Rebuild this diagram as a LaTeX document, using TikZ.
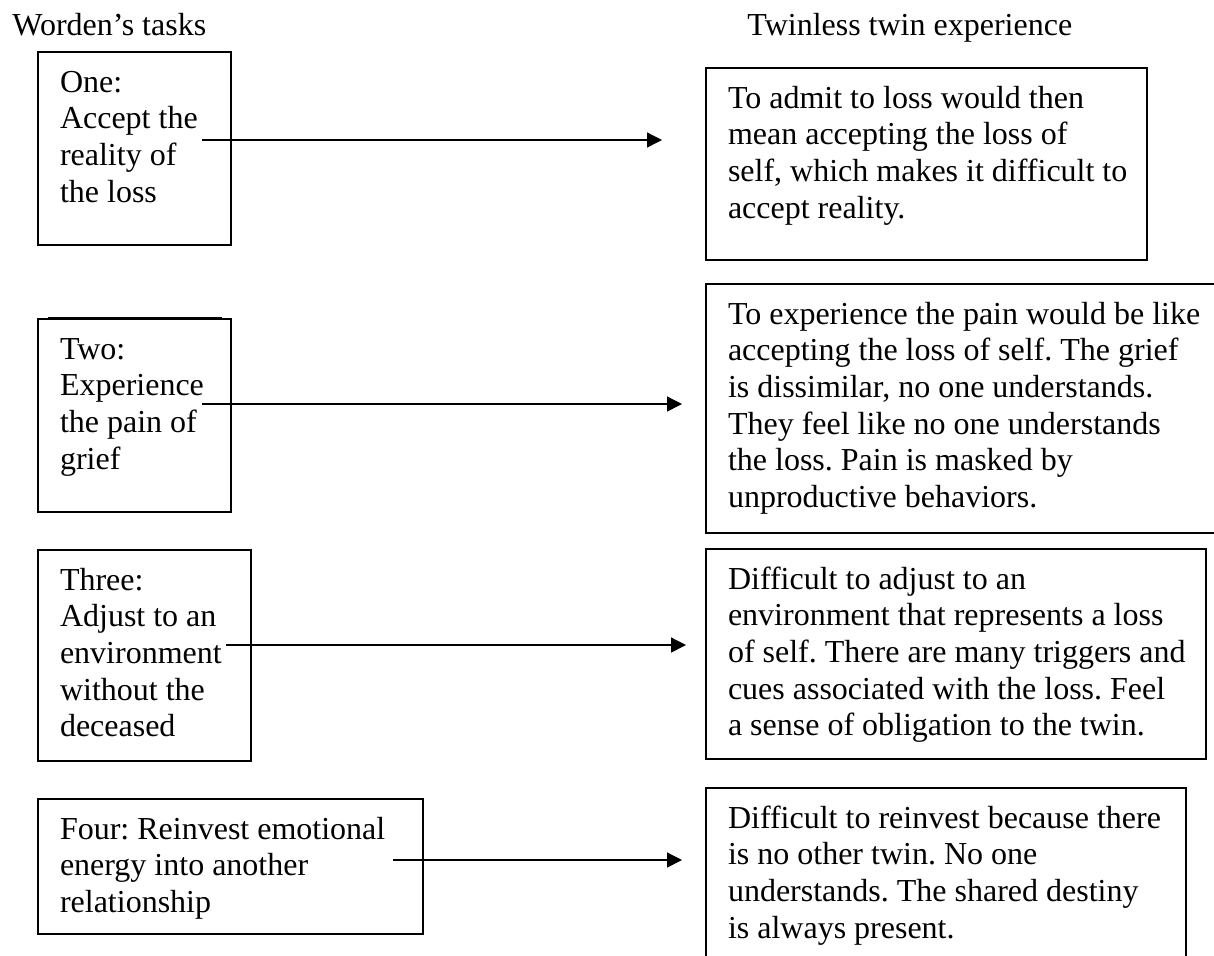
\documentclass[tikz,border=0pt]{standalone}
\usepackage{fontspec}
\setmainfont{Liberation Serif}
\usetikzlibrary{arrows.meta,calc}
\tikzset{pin/.style={line width=0.7pt, -{Triangle[length=7.5pt,width=7.5pt]}},
  stage/.style 2 args={draw, line width=0.7pt, outer sep=0pt, anchor=north west,
    inner xsep=11pt, inner ysep=0pt, text width=#1, text height=20pt, text depth=#2,
    execute at begin node={\raggedright\rightskip=-12pt plus 1fil\frenchspacing\spaceskip=4pt\relax}},
  head/.style={anchor=base west, inner sep=0pt}}

\begin{document}
\begin{tikzpicture}[x=0.5pt, y=-0.5pt, font=\fontsize{16}{18.35}\selectfont]
  \useasboundingbox (0,0) rectangle (1214,955);
  \node[head] (h1) at (12,35) {Worden’s tasks};
  \node[head] (h2) at (747,35) {Twinless twin experience};
  % tasks on the left
  \node[stage={74.5pt}{76.5pt}] (t1) at (38,52) {One:\\ Accept the\\ reality of\\ the loss};
  \node[stage={74.5pt}{76.5pt}] (t2) at (38,319) {Two:\\ Experience\\ the pain of\\ grief};
  \node[stage={84.5pt}{85.5pt}] (t3) at (38,550) {Three:\\ Adjust to an\\ environment\\ without the\\ deceased};
  \node[stage={170.5pt}{47.5pt}] (t4) at (38,799) {Four: Reinvest emotional\\ energy into another\\ relationship};
  \draw[line width=0.7pt] ($(t2.north west)+(10,-1.5)$) -- ($(t2.north east)+(-9,-1.5)$);
  % experience on the right
  \node[stage={198.5pt}{76pt}] (e1) at (706,68) {To admit to loss would then\\ mean accepting the loss of\\ self, which makes it difficult to\\ accept reality.};
  \node[stage={243pt}{104.5pt}] (e2) at (706,284) {To experience the pain would be like\\ accepting the loss of self. The grief\\ is dissimilar, no one understands.\\ They feel like no one understands\\ the loss. Pain is masked by\\ unproductive behaviors.};
  \node[stage={228pt}{85pt}] (e3) at (706,549) {Difficult to adjust to an\\ environment that represents a loss\\ of self. There are many triggers and\\ cues associated with the loss. Feel\\ a sense of obligation to the twin.};
  \node[stage={218pt}{66pt}] (e4) at (706,788) {Difficult to reinvest because there\\ is no other twin. No one\\ understands. The shared destiny\\ is always present.};
  \foreach \i/\dx/\dy/\gap in {1/-29/88/44, 2/-29/85/24, 3/-25/95/20, 4/-30/61/24}{
    \coordinate (s\i) at ($(t\i.north east)+(\dx,\dy)$);
    \draw[pin] (s\i) -- ($(s\i -| e\i.west)+(-\gap,0)$);}
\end{tikzpicture}
\end{document}
